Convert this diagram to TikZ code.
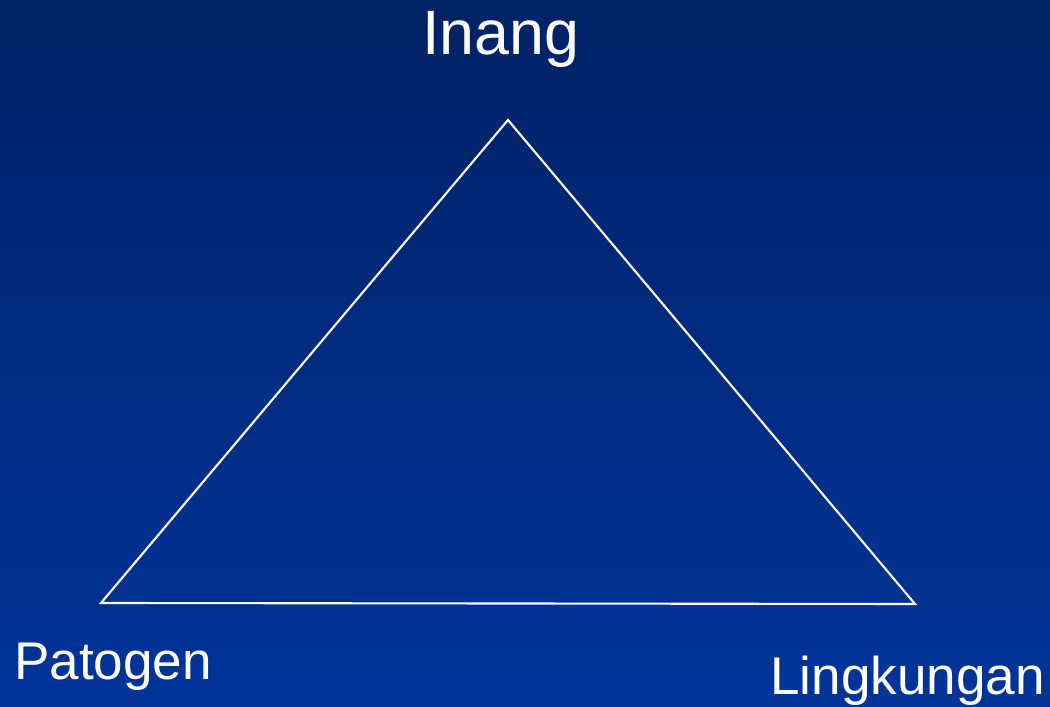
\documentclass[tikz,border=0pt]{standalone}
\usepackage{fontspec}
\setmainfont{Liberation Sans}
\begin{document}
\begin{tikzpicture}[
  lbl/.style={text=white, inner sep=0pt, anchor=base},
  edge/.style={draw=white, line width=1.2pt, line join=miter}
]
\shade[top color={rgb,255:red,0;green,34;blue,102}, bottom color={rgb,255:red,0;green,52;blue,153}] (0,0) rectangle (21,14.14);
\useasboundingbox (0,0) rectangle (21,14.14);
\coordinate (top) at (10.16,11.74);
\coordinate (bl) at (2.02,2.08);
\coordinate (br) at (18.30,2.06);
\draw[edge] (top) -- (br) -- (bl) -- cycle;
\node[lbl, font=\fontsize{35.7}{40}\selectfont] (inang) at (10.02,13.04) {Inang};
\node[lbl, font=\fontsize{30.2}{34}\selectfont] (patogen) at (2.26,0.54) {Patogen};
\node[lbl, font=\fontsize{30.2}{34}\selectfont] (lingkungan) at (18.15,0.24) {Lingkungan};
\end{tikzpicture}
\end{document}
